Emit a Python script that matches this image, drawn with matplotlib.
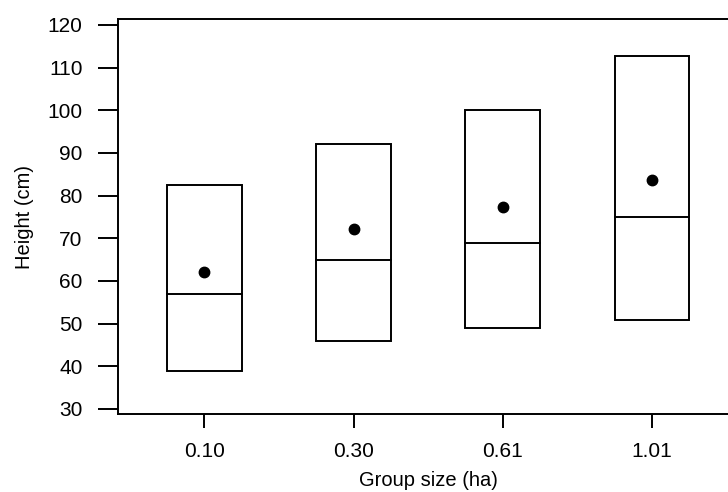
import matplotlib.pyplot as plt
import numpy as np

plt.rcParams['font.family'] = ['Liberation Sans', 'DejaVu Sans']

# Group size categories (ha)
groups = ['0.10', '0.30', '0.61', '1.01']
box_low = [38.9, 45.9, 49.0, 50.9]
box_high = [82.5, 92.0, 100.0, 112.7]
medians = [57.0, 64.8, 68.9, 75.0]
means = [62.2, 72.2, 77.3, 83.7]

fig = plt.figure(figsize=(7.28, 4.92), dpi=100)
ax = fig.add_axes([0.1621, 0.1585, 0.852, 0.8029])

pos = np.arange(1, len(groups) + 1)
half = 0.25

# boxes with median line, mean as dot
for x, lo, hi, med in zip(pos, box_low, box_high, medians):
    ax.add_patch(plt.Rectangle((x - half, lo), 2 * half, hi - lo,
                               fill=False, edgecolor='black', linewidth=1.4))
    ax.plot([x - half, x + half], [med, med], color='black', linewidth=1.4)

ax.plot(pos, means, 'o', color='black', markersize=7.5)

ax.set_xlim(0.42, 4.58)
ax.set_ylim(28.8, 121.4)
ax.set_yticks(np.arange(30, 121, 10))
ax.set_xticks(pos)
ax.set_xticklabels(groups)

for s in ax.spines.values():
    s.set_linewidth(1.4)

ax.tick_params(axis='y', length=14.4, width=1.4, pad=11, labelsize=15)
ax.tick_params(axis='x', length=10, width=1.4, pad=10, labelsize=15)

ax.set_xlabel('Group size (ha)', fontsize=14.5, labelpad=7)
ax.set_ylabel('Height (cm)', fontsize=14.5, labelpad=10)

fig.savefig('out.png', dpi=100)
